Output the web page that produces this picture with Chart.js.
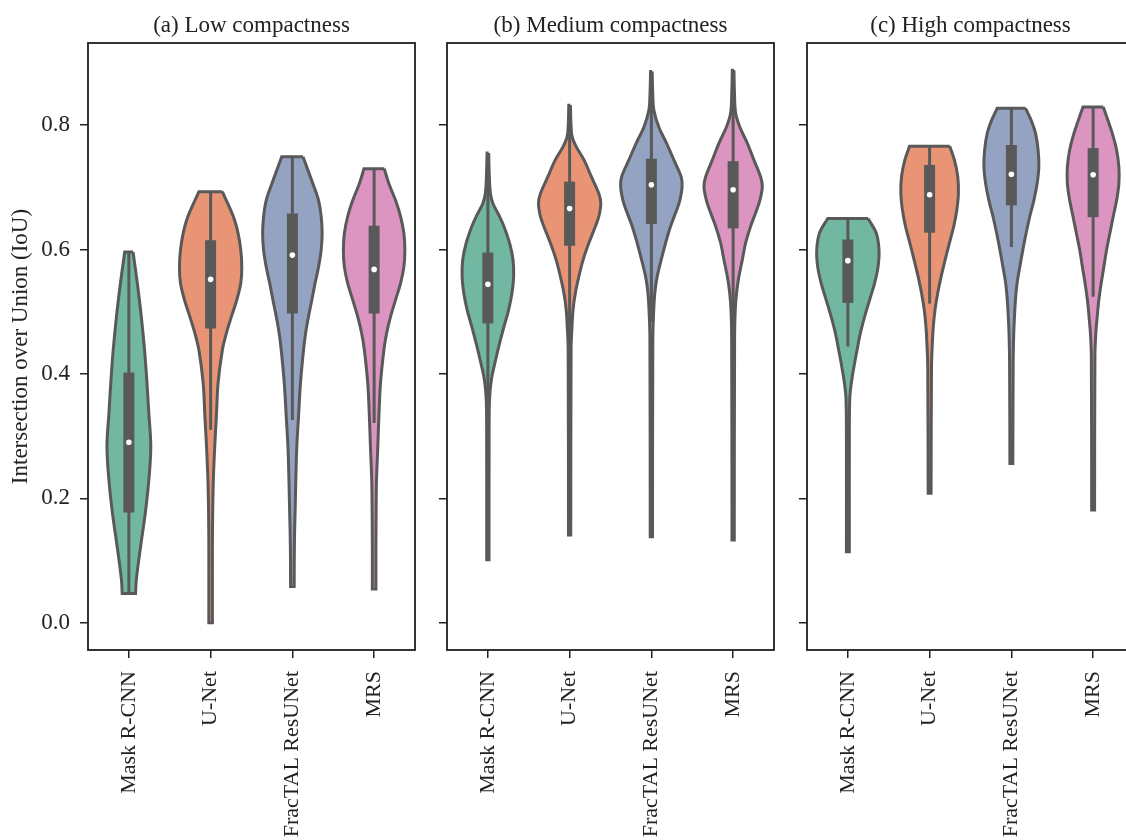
<!DOCTYPE html>
<html>
<head>
<meta charset="utf-8">
<script src="https://cdn.jsdelivr.net/npm/chart.js@4.4.1/dist/chart.umd.min.js"></script>
<style>
  html, body { margin: 0; padding: 0; background: #fff; overflow: hidden; width: 1126px; height: 840px; }
  canvas { position: absolute; top: 0; }
</style>
</head>
<body>
<canvas id="low" width="420" height="840" style="left:0px"></canvas>
<canvas id="medium" width="340" height="840" style="left:439px"></canvas>
<canvas id="high" width="340" height="840" style="left:799px"></canvas>
<script>
// categories and axis ticks
const methods = ['Mask R-CNN', 'U-Net', 'FracTAL ResUNet', 'MRS'];
const yTicks = [0.0, 0.2, 0.4, 0.6, 0.8];
const titles = ['(a) Low compactness', '(b) Medium compactness', '(c) High compactness'];

// violin colours (Set2, desaturated) and line grey
const fills = ['#71b7a1', '#e99575', '#95a3c3', '#dc95c1'];
const grey = '#595959';

// density profiles: [IoU, half width in category units], top to bottom
const lowDensity = [
  [[0.596, 0.051], [0.546, 0.103], [0.492, 0.152], [0.438, 0.192], [0.39, 0.219], [0.337, 0.244], [0.283, 0.268], [0.229, 0.244], [0.176, 0.201], [0.122, 0.143], [0.069, 0.091], [0.047, 0.082]],
  [[0.693, 0.143], [0.653, 0.278], [0.626, 0.336], [0.599, 0.369], [0.572, 0.381], [0.546, 0.369], [0.519, 0.320], [0.492, 0.254], [0.465, 0.192], [0.438, 0.143], [0.385, 0.091], [0.331, 0.070], [0.283, 0.050], [0.229, 0.033], [0.176, 0.025], [0.12, 0.022], [0.0, 0.022]],
  [[0.749, 0.130], [0.728, 0.189], [0.706, 0.250], [0.679, 0.320], [0.653, 0.352], [0.626, 0.364], [0.599, 0.352], [0.572, 0.320], [0.546, 0.278], [0.519, 0.238], [0.492, 0.197], [0.465, 0.161], [0.438, 0.136], [0.385, 0.099], [0.331, 0.075], [0.283, 0.054], [0.229, 0.042], [0.176, 0.033], [0.144, 0.027], [0.10, 0.023], [0.058, 0.022]],
  [[0.730, 0.124], [0.706, 0.180], [0.679, 0.262], [0.653, 0.324], [0.626, 0.364], [0.599, 0.376], [0.572, 0.364], [0.546, 0.324], [0.519, 0.262], [0.492, 0.201], [0.465, 0.152], [0.438, 0.119], [0.385, 0.078], [0.331, 0.058], [0.283, 0.045], [0.229, 0.029], [0.19, 0.025], [0.12, 0.022], [0.054, 0.022]]
];
const mediumDensity = [
  [[0.755, 0.010], [0.72, 0.017], [0.69, 0.031], [0.674, 0.062], [0.653, 0.143], [0.637, 0.197], [0.610, 0.266], [0.583, 0.308], [0.556, 0.315], [0.530, 0.295], [0.503, 0.254], [0.476, 0.197], [0.449, 0.143], [0.422, 0.094], [0.391, 0.043], [0.358, 0.020], [0.30, 0.015], [0.101, 0.014]],
  [[0.832, 0.010], [0.80, 0.017], [0.781, 0.031], [0.765, 0.082], [0.744, 0.176], [0.717, 0.266], [0.690, 0.357], [0.674, 0.381], [0.653, 0.357], [0.637, 0.315], [0.610, 0.234], [0.583, 0.164], [0.556, 0.112], [0.530, 0.070], [0.503, 0.042], [0.476, 0.029], [0.44, 0.018], [0.141, 0.014]],
  [[0.886, 0.010], [0.85, 0.017], [0.824, 0.031], [0.797, 0.091], [0.771, 0.185], [0.744, 0.275], [0.717, 0.364], [0.701, 0.376], [0.679, 0.348], [0.663, 0.308], [0.637, 0.234], [0.610, 0.173], [0.583, 0.119], [0.556, 0.070], [0.530, 0.042], [0.503, 0.029], [0.46, 0.018], [0.138, 0.014]],
  [[0.888, 0.010], [0.85, 0.017], [0.819, 0.031], [0.797, 0.082], [0.771, 0.173], [0.744, 0.254], [0.717, 0.336], [0.701, 0.357], [0.679, 0.327], [0.663, 0.287], [0.637, 0.213], [0.610, 0.152], [0.583, 0.112], [0.556, 0.070], [0.530, 0.042], [0.503, 0.026], [0.46, 0.018], [0.133, 0.014]]
];
const highDensity = [
  [[0.650, 0.246], [0.626, 0.348], [0.599, 0.381], [0.572, 0.369], [0.546, 0.327], [0.519, 0.266], [0.492, 0.205], [0.465, 0.152], [0.438, 0.112], [0.412, 0.075], [0.385, 0.042], [0.36, 0.023], [0.30, 0.018], [0.114, 0.018]],
  [[0.766, 0.246], [0.744, 0.303], [0.717, 0.344], [0.690, 0.352], [0.663, 0.332], [0.637, 0.295], [0.610, 0.241], [0.583, 0.189], [0.556, 0.140], [0.530, 0.099], [0.503, 0.066], [0.476, 0.045], [0.449, 0.033], [0.41, 0.023], [0.208, 0.018]],
  [[0.827, 0.174], [0.808, 0.241], [0.787, 0.295], [0.760, 0.327], [0.733, 0.336], [0.706, 0.315], [0.679, 0.275], [0.653, 0.225], [0.626, 0.180], [0.599, 0.140], [0.572, 0.103], [0.546, 0.070], [0.519, 0.050], [0.492, 0.038], [0.465, 0.029], [0.42, 0.022], [0.256, 0.018]],
  [[0.829, 0.124], [0.808, 0.180], [0.787, 0.234], [0.760, 0.287], [0.733, 0.315], [0.706, 0.315], [0.679, 0.287], [0.653, 0.246], [0.626, 0.205], [0.599, 0.164], [0.572, 0.131], [0.546, 0.099], [0.519, 0.070], [0.492, 0.050], [0.465, 0.033], [0.43, 0.022], [0.181, 0.018]]
];

// box summaries per panel
const lowQ1 = [0.177, 0.473, 0.497, 0.497];
const lowQ3 = [0.402, 0.615, 0.658, 0.638];
const lowMedian = [0.290, 0.552, 0.591, 0.568];
const lowWhiskerLo = [0.047, 0.310, 0.326, 0.321];
const lowWhiskerHi = [0.596, 0.693, 0.749, 0.730];

const mediumQ1 = [0.481, 0.606, 0.641, 0.634];
const mediumQ3 = [0.595, 0.709, 0.746, 0.742];
const mediumMedian = [0.544, 0.666, 0.704, 0.696];
const mediumWhiskerLo = [0.330, 0.446, 0.484, 0.470];
const mediumWhiskerHi = [0.755, 0.832, 0.886, 0.888];

const highQ1 = [0.514, 0.627, 0.671, 0.652];
const highQ3 = [0.616, 0.736, 0.768, 0.763];
const highMedian = [0.582, 0.688, 0.721, 0.720];
const highWhiskerLo = [0.444, 0.513, 0.604, 0.524];
const highWhiskerHi = [0.650, 0.766, 0.827, 0.829];

Chart.defaults.font.family = "'Liberation Serif', 'DejaVu Serif', serif";
Chart.defaults.font.size = 23;
Chart.defaults.color = '#222';

// draws the box around the plot area
const frame = {
    id: 'frame',
    afterDatasetsDraw(chart) {
        const a = chart.chartArea;
        const ctx = chart.ctx;
        ctx.save();
        ctx.strokeStyle = '#1e1e1e';
        ctx.lineWidth = 1.8;
        ctx.strokeRect(a.left, a.top, a.right - a.left, a.bottom - a.top);
        ctx.restore();
    }
};

function buildDatasets(density, q1, q3, med, wlo, whi) {
    const sets = [];
    density.forEach((prof, i) => {
        const right = prof.map(p => ({x: i + p[1], y: p[0]}));
        const left = prof.slice().reverse().map(p => ({x: i - p[1], y: p[0]}));
        const n = right.length;
        // doubled corner points keep the flat cut ends straight under the spline
        const pts = [right[0]].concat(right, [right[n - 1]], [left[0]], left, [left[n - 1]], [right[0], right[0]]);
        sets.push({
            data: pts, fill: 'shape', backgroundColor: fills[i], borderColor: grey,
            borderWidth: 3, tension: 0.35, pointRadius: 0, order: 4
        });
        sets.push({
            data: [{x: i, y: wlo[i]}, {x: i, y: whi[i]}],
            borderColor: grey, borderWidth: 3, pointRadius: 0, fill: false, order: 3
        });
        sets.push({
            data: [{x: i, y: q1[i]}, {x: i, y: q3[i]}],
            borderColor: grey, borderWidth: 11, borderCapStyle: 'butt', pointRadius: 0, fill: false, order: 2
        });
        sets.push({
            data: [{x: i, y: med[i]}], showLine: false,
            pointRadius: 2.8, pointBorderWidth: 0, pointBackgroundColor: '#fff', order: 1
        });
    });
    return sets;
}

function makePanel(id, title, datasets, first) {
    new Chart(document.getElementById(id), {
        type: 'line',
        data: { datasets: datasets },
        plugins: [frame],
        options: {
            responsive: false,
            animation: false,
            events: [],
            layout: { padding: { left: 0, right: 5, top: 0, bottom: 0 } },
            plugins: {
                legend: { display: false },
                tooltip: { enabled: false },
                title: {
                    display: true, text: title, fullSize: false,
                    font: { size: 23, weight: 'normal' }, color: '#222',
                    padding: { top: 12, bottom: 3.4 }
                }
            },
            scales: {
                x: {
                    type: 'linear', min: -0.5, max: 3.5,
                    afterBuildTicks: s => { s.ticks = methods.map((m, i) => ({value: i})); },
                    afterFit: s => { s.height = 190; },
                    ticks: {
                        callback: v => methods[v], autoSkip: false, font: { size: 22 },
                        minRotation: 90, maxRotation: 90, padding: 13, color: '#222'
                    },
                    grid: { drawOnChartArea: false, drawTicks: true, tickLength: 8, color: '#222', lineWidth: 1.5 },
                    border: { display: false }
                },
                y: {
                    min: -0.044, max: 0.932,
                    afterBuildTicks: s => { s.ticks = yTicks.map(v => ({value: v})); },
                    afterFit: s => { s.width = first ? 88 : 8; },
                    ticks: { display: first, callback: v => v.toFixed(1), padding: 10, color: '#222' },
                    title: {
                        display: first, text: 'Intersection over Union (IoU)',
                        font: { size: 23 }, color: '#222', padding: { top: 7, bottom: 0 }
                    },
                    grid: { drawOnChartArea: false, drawTicks: true, tickLength: 8, color: '#222', lineWidth: 1.5 },
                    border: { display: false }
                }
            }
        }
    });
}

makePanel('low', titles[0], buildDatasets(lowDensity, lowQ1, lowQ3, lowMedian, lowWhiskerLo, lowWhiskerHi), true);
makePanel('medium', titles[1], buildDatasets(mediumDensity, mediumQ1, mediumQ3, mediumMedian, mediumWhiskerLo, mediumWhiskerHi), false);
makePanel('high', titles[2], buildDatasets(highDensity, highQ1, highQ3, highMedian, highWhiskerLo, highWhiskerHi), false);
</script>
</body>
</html>
